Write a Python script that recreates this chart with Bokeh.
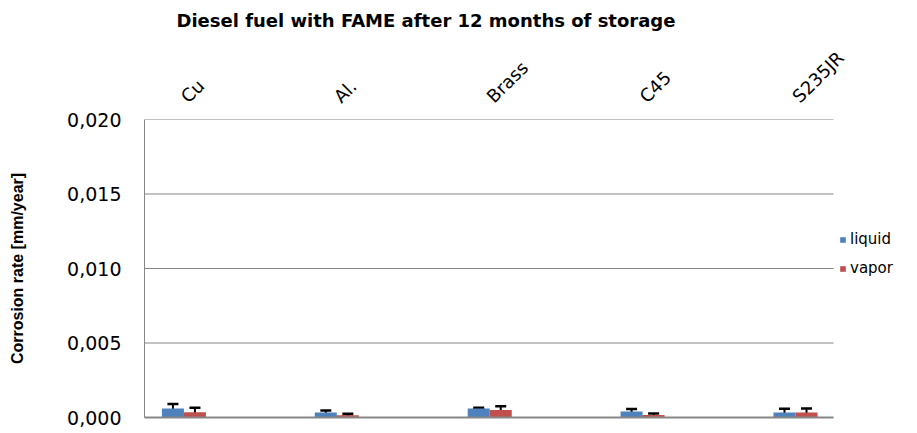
import math
from bokeh.plotting import figure
from bokeh.models import (ColumnDataSource, Whisker, TeeHead, FixedTicker, LinearAxis,
                          CustomJSTickFormatter, Legend, LegendItem, Range1d)
from bokeh.embed import file_html
from bokeh.resources import INLINE

categories = ["Cu", "Al.", "Brass", "C45", "S235JR"]
liquid = [0.00060, 0.00034, 0.00060, 0.00040, 0.00034]
liquid_err = [0.00031, 0.00013, 0.00005, 0.00017, 0.00024]
vapor = [0.00036, 0.00015, 0.00051, 0.00017, 0.00034]
vapor_err = [0.00029, 0.00010, 0.00024, 0.00010, 0.00027]
y_ticks = [0.0, 0.005, 0.010, 0.015, 0.020]

BLUE = "#4F81BD"
RED = "#C0504D"
GRID = "#868686"
FONT = "DejaVu Sans"

# category axis extent (plot area) and extra room on the right for the legend
X_START, X_AREA_END, X_END = -0.258, 4.249, 4.798

bar_w = 0.144
xs = list(range(len(categories)))
x_liq = [x - bar_w / 2 for x in xs]
x_vap = [x + bar_w / 2 for x in xs]

src_l = ColumnDataSource(dict(x=x_liq, top=liquid,
                              upper=[v + e for v, e in zip(liquid, liquid_err)],
                              lower=[v - e for v, e in zip(liquid, liquid_err)]))
src_v = ColumnDataSource(dict(x=x_vap, top=vapor,
                              upper=[v + e for v, e in zip(vapor, vapor_err)],
                              lower=[v - e for v, e in zip(vapor, vapor_err)]))

p = figure(width=917, height=433, output_backend="svg", toolbar_location=None,
           x_range=Range1d(X_START, X_END), y_range=Range1d(0, 0.020),
           x_axis_location=None, y_axis_location=None,
           min_border_left=144, min_border_right=0, min_border_top=119, min_border_bottom=16)
p.outline_line_color = None
p.background_fill_color = "white"
p.border_fill_color = "white"
p.xgrid.visible = False
p.ygrid.visible = False

# horizontal gridlines across the plot area only
grid_y = [t for t in y_ticks if t > 0]
p.segment(x0=[X_START] * len(grid_y), x1=[X_AREA_END] * len(grid_y), y0=grid_y, y1=grid_y,
          line_color=GRID, line_width=1)

rl = p.vbar(x="x", top="top", width=bar_w, source=src_l, fill_color=BLUE, line_color=None)
rv = p.vbar(x="x", top="top", width=bar_w, source=src_v, fill_color=RED, line_color=None)

for src in (src_l, src_v):
    w = Whisker(source=src, base="x", upper="upper", lower="lower", dimension="height",
                line_color="black", line_width=2,
                upper_head=TeeHead(size=11, line_color="black", line_width=2.5),
                lower_head=TeeHead(size=11, line_color="black", line_width=2.5))
    p.add_layout(w)

# Y axis
yax = LinearAxis(ticker=FixedTicker(ticks=y_ticks),
                 formatter=CustomJSTickFormatter(code="return tick.toFixed(3).replace('.', ',');"))
yax.axis_line_color = GRID
yax.axis_line_width = 1
yax.major_tick_line_color = None
yax.minor_tick_line_color = None
yax.major_tick_out = 0
yax.major_tick_in = 0
yax.minor_tick_out = 0
yax.major_label_text_font = FONT
yax.major_label_text_font_size = "19px"
yax.major_label_text_color = "black"
yax.major_label_standoff = 23
yax.axis_label = "Corrosion rate [mm/year]"
yax.axis_label_text_font = "Liberation Sans"
yax.axis_label_text_font_size = "16px"
yax.axis_label_text_font_style = "bold"
yax.axis_label_text_color = "black"
yax.axis_label_standoff = 38
p.add_layout(yax, "left")

# Bottom axis line only, limited to plot area
bax = LinearAxis(ticker=FixedTicker(ticks=[]), bounds=(X_START, X_AREA_END))
bax.axis_line_color = GRID
bax.axis_line_width = 2
bax.major_tick_line_color = None
bax.minor_tick_line_color = None
bax.major_tick_out = 0
bax.major_label_text_font_size = "0px"
p.add_layout(bax, "below")

# Top category axis
tax = LinearAxis(ticker=FixedTicker(ticks=xs),
                 major_label_overrides={i: c for i, c in enumerate(categories)})
tax.axis_line_color = None
tax.major_tick_line_color = None
tax.minor_tick_line_color = None
tax.major_tick_out = 0
tax.major_tick_in = 0
tax.major_label_orientation = math.pi / 4
tax.major_label_text_font = FONT
tax.major_label_text_font_size = "18px"
tax.major_label_text_color = "black"
tax.major_label_standoff = 20
p.add_layout(tax, "above")

p.title.text = "Diesel fuel with FAME after 12 months of storage"
p.title.text_font = FONT
p.title.text_font_size = "18px"
p.title.text_font_style = "bold"
p.title.text_color = "black"
p.title.align = "left"
p.title.offset = 32
p.title.standoff = 12

legend = Legend(items=[LegendItem(label="liquid", renderers=[rl]),
                       LegendItem(label="vapor", renderers=[rv])],
                location=(695, 140))
legend.glyph_width = 7
legend.glyph_height = 7
legend.label_height = 14
legend.label_text_font = FONT
legend.label_text_font_size = "15px"
legend.label_text_color = "black"
legend.label_standoff = 4
legend.spacing = 11
legend.padding = 0
legend.margin = 0
legend.border_line_color = None
legend.background_fill_alpha = 0
p.add_layout(legend, "center")

open("out.html", "w").write(file_html(p, INLINE))
